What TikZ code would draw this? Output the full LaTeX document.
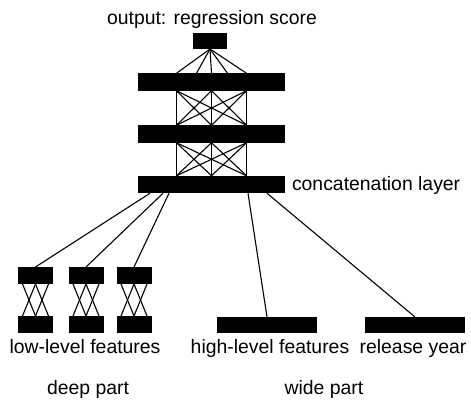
\documentclass[tikz,border=0pt]{standalone}
\usepackage{fontspec}
\setmainfont{Liberation Sans}
\begin{document}
\begin{tikzpicture}[x=1pt,y=-1pt,
  blk/.style={draw=none,fill=black,inner sep=0pt,outer sep=0pt,rectangle},
  wire/.style={line width=1.1pt,black},
  lbl/.style={inner sep=0pt,outer sep=0pt,font=\fontsize{19.4}{23}\selectfont}]
\useasboundingbox (0,0) rectangle (471,401);
% layers
\node[blk,minimum width=34pt,minimum height=16pt] (out) at (210,41) {};
\node[blk,minimum width=147pt,minimum height=17.5pt] (L1) at (211.5,82) {};
\node[blk,minimum width=147pt,minimum height=17.5pt] (L2) at (211.5,134) {};
\node[blk,minimum width=147pt,minimum height=17.5pt] (L3) at (211.5,184.5) {};
% deep part
\foreach \i/\x in {1/35.5,2/86,3/134}{
  \node[blk,minimum width=35pt,minimum height=17pt] (dt\i) at (\x,275.5) {};
  \node[blk,minimum width=35pt,minimum height=17pt] (db\i) at (\x,324.5) {};
}
% wide part
\node[blk,minimum width=100pt,minimum height=16pt] (hl) at (267,325) {};
\node[blk,minimum width=100pt,minimum height=16pt] (ry) at (415,325) {};
% output to L1
\foreach \o in {-35,-15,0,16,35}{
  \draw[wire] (out.south) -- ([xshift=\o pt]L1.north);
}
% L1-L2 and L2-L3 full connections
\foreach \a in {-35,0,35}{
  \foreach \b in {-35,0,35}{
    \draw[wire] ([xshift=\a pt]L1.south) -- ([xshift=\b pt]L2.north);
    \draw[wire] ([xshift=\a pt]L2.south) -- ([xshift=\b pt]L3.north);
  }
}
% concat to inputs
\draw[wire] ([xshift=-61.5pt]L3.south) -- (dt1.north);
\draw[wire] ([xshift=-48.5pt]L3.south) -- (dt2.north);
\draw[wire] ([xshift=-42.5pt]L3.south) -- (dt3.north);
\draw[wire] ([xshift=36.5pt]L3.south) -- (hl.north);
\draw[wire] ([xshift=55.5pt]L3.south) -- (ry.north);
% deep crosses
\foreach \i in {1,2,3}{
  \draw[wire] ([xshift=-13pt]dt\i.south) -- (db\i.north);
  \draw[wire] (dt\i.south) -- ([xshift=-13pt]db\i.north);
  \draw[wire] (dt\i.south) -- ([xshift=13pt]db\i.north);
  \draw[wire] ([xshift=13pt]dt\i.south) -- (db\i.north);
}
% labels
\node[lbl,anchor=base] (tout) at (212,25) {output: regression score};
\node[lbl,anchor=base west] (tcat) at (292,190) {concatenation layer};
\node[lbl,anchor=base] (tlow) at (85,353) {low-level features};
\node[lbl,anchor=base] (thigh) at (270,353) {high-level features};
\node[lbl,anchor=base] (tyear) at (413,353) {release year};
\node[lbl,anchor=base] (tdeep) at (88,394) {deep part};
\node[lbl,anchor=base] (twide) at (324,394) {wide part};
\end{tikzpicture}
\end{document}
